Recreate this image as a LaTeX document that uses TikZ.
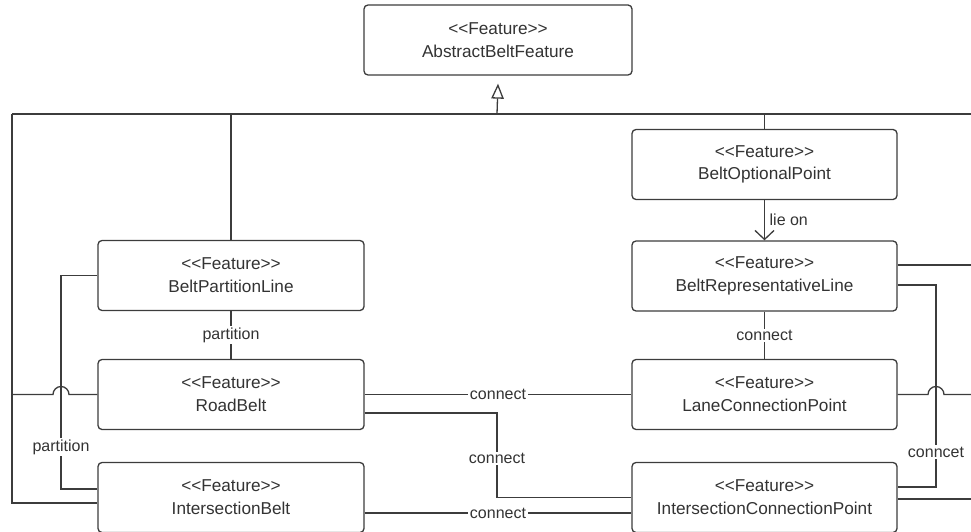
\documentclass[tikz,border=0pt]{standalone}
\usepackage{fontspec}
\setmainfont{Liberation Sans}
\usetikzlibrary{arrows.meta,calc}
\definecolor{ln}{HTML}{3C3C3C}
\definecolor{tx}{HTML}{333333}
\newcommand\stereo{<\kern0pt<Feature>\kern0pt>}
\begin{document}
\begin{tikzpicture}[x=1pt,y=-1pt,
  feat/.style={draw=ln, line width=1.3pt, rounded corners=4pt, fill=white,
    minimum width=266pt, minimum height=70pt, align=center, text=tx,
    font=\fontsize{17.2}{22.7}\selectfont, inner sep=0pt},
  conn/.style={draw=ln, line width=1.3pt},
  lbl/.style={fill=white, text=tx, font=\fontsize{16}{18}\selectfont, inner sep=1.5pt}]
\useasboundingbox (0,0) rectangle (971,532);

% boxes
\node[feat, minimum width=268pt] (abf) at (498,40) {\stereo\\AbstractBeltFeature};
\node[feat] (bpl) at (231,275.5) {\stereo\\BeltPartitionLine};
\node[feat] (rb)  at (231,394.5) {\stereo\\RoadBelt};
\node[feat] (ib)  at (231,497.5) {\stereo\\IntersectionBelt};
\node[feat, minimum width=265pt] (bop) at (764.5,164.5) {\stereo\\BeltOptionalPoint};
\node[feat, minimum width=265pt] (brl) at (764.5,276) {\stereo\\BeltRepresentativeLine};
\node[feat, minimum width=265pt] (lcp) at (764.5,394.5) {\stereo\\LaneConnectionPoint};
\node[feat, minimum width=265pt] (icp) at (764.5,497.5) {\stereo\\IntersectionConnectionPoint};

% helper coordinates
\coordinate (busL) at (12,114);
\coordinate (busR) at (971,114);
\coordinate (busM) at (497,114);
\coordinate (px) at (61,400);
\coordinate (mx) at (497,400);
\coordinate (qx) at (936,400);
\coordinate (edge) at (971,400);

% generalization bus
\draw[conn] (busL) -- (busR);
\draw[conn, -{Triangle[open, length=15pt, width=12.5pt, line width=1.3pt]}] (busM) -- ([yshift=-8pt]abf.south);
\draw[conn] (bpl.north) -- (bpl.north |- busM);
\draw[conn] (bop.north) -- (bop.north |- busM);
\draw[conn] (busL) |- ([yshift=-5.5pt]ib.west);
\draw[conn] (busL |- rb.west) -- ([xshift=-8pt]px |- rb.west)
  arc[start angle=180, end angle=0, radius=8pt] -- (rb.west);

% partition (left)
\draw[conn] (bpl.west) -| ([yshift=8.5pt]ib.west -| px) -- ([yshift=8.5pt]ib.west);
\node[lbl] (lp1) at (61,447) {partition};

% partition (middle)
\draw[conn] (bpl.south) -- node[lbl] (lp2) {partition} (rb.north);

% lie on
\draw[conn, -{Straight Barb[length=9pt, width=19pt, line width=1.3pt]}] (bop.south) -- node[right=3pt, text=tx, font=\fontsize{16}{18}\selectfont, inner sep=1.5pt] (lo) {lie on} (brl.north);

% connect BRL - LCP
\draw[conn] (brl.south) -- node[lbl] (lc1) {connect} (lcp.north);

% connect RB - LCP
\draw[conn] (rb.east) -- node[lbl] (lc2) {connect} (lcp.west);

% connect RB - ICP
\draw[conn] ([yshift=-18.5pt]rb.east) -- ([yshift=-18.5pt]rb.east -| mx)
  -- node[lbl, pos=0.54] (lc3) {connect} (mx |- icp.west) -- (icp.west);

% connect IB - ICP
\draw[conn] ([yshift=-15.5pt]ib.east) -- node[lbl] (lc4) {connect} ([yshift=-15.5pt]icp.west);

% right side
\draw[conn] ([yshift=11pt]brl.east) -- ([yshift=11pt]brl.east -| edge);
\draw[conn] ([yshift=-9pt]brl.east) -| ([yshift=10.5pt]icp.east -| qx) -- ([yshift=10.5pt]icp.east);
\node[lbl] (lc5) at (936,452) {conncet};
\draw[conn] (lcp.east) -- ([xshift=-8pt]qx |- lcp.east)
  arc[start angle=180, end angle=0, radius=8pt] -- (edge |- lcp.east);
\draw[conn] ([yshift=-1.5pt]icp.east) -- ([yshift=-1.5pt]icp.east -| edge);
\end{tikzpicture}
\end{document}
